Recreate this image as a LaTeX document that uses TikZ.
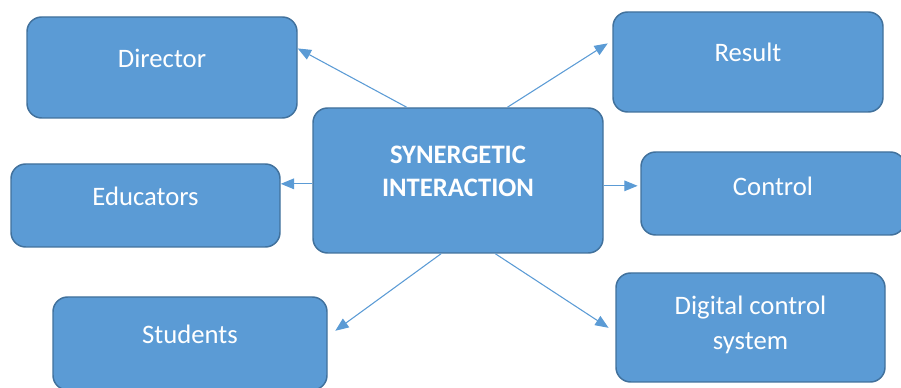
\documentclass[tikz,border=0pt]{standalone}
\usepackage{fontspec}
\setmainfont{Carlito}
\usetikzlibrary{arrows.meta, positioning, calc}
\definecolor{boxfill}{HTML}{5B9BD5}
\definecolor{boxline}{HTML}{41719C}
\tikzset{
  blockbox/.style={
    rectangle, rounded corners=11pt,
    draw=boxline, line width=1.1pt,
    fill=boxfill
  },
  blocktext/.style={
    text=white, align=center,
    font=\fontsize{20}{26}\selectfont
  },
  arrow/.style={-{Triangle[length=10pt, width=8pt]}, line width=0.8pt, boxfill}
}

\begin{document}
\begin{tikzpicture}[x=0.75pt, y=-0.75pt]

  \useasboundingbox (0,0) rectangle (901,388);

  % Central node
  \node[blockbox, minimum width=217.5pt, minimum height=108.75pt,
    label={[blocktext, font=\fontsize{20}{25}\selectfont\bfseries, yshift=7pt]center:SYNERGETIC\\INTERACTION}]
    (syn) at (458,180.5) {};

  % Surrounding nodes
  \node[blockbox, minimum width=202.5pt, minimum height=75.75pt,
    label={[blocktext, yshift=7pt]center:Director}] (dir) at (162,67.5) {};
  \node[blockbox, minimum width=202.5pt, minimum height=75pt,
    label={[blocktext, yshift=7.5pt]center:Result}] (res) at (748,62) {};
  \node[blockbox, minimum width=201.75pt, minimum height=62.25pt,
    label={[blocktext, yshift=6.5pt]center:Educators}] (edu) at (145.5,205.5) {};
  \node[blockbox, minimum width=198pt, minimum height=62.25pt,
    label={[blocktext, yshift=5.5pt]center:Control}] (ctl) at (773,193.5) {};
  \node[blockbox, minimum width=205.5pt, minimum height=69.75pt,
    label={[blocktext, yshift=7pt]center:Students}] (stu) at (190,343.5) {};
  \node[blockbox, minimum width=201.75pt, minimum height=81.75pt,
    label={[blocktext, yshift=2pt]center:Digital control\\system}] (dig) at (750.5,327.5) {};

  % Connectors
  \draw[arrow] (syn.125) -- (dir.8.5);
  \draw[arrow, shorten >=4pt] (syn.56) -- (res.171);
  \draw[arrow] ([yshift=-2.5pt]syn.west) -- ([yshift=-2.5pt]syn.west -| edu.east);
  \draw[arrow, shorten >=2pt] ([yshift=-4pt]syn.east) -- ([yshift=-4pt]syn.east -| ctl.west);
  \draw[arrow, shorten >=7pt] (syn.257.7) -- (stu.3.4);
  \draw[arrow, shorten >=6pt] (syn.297.3) -- (dig.182.2);

\end{tikzpicture}
\end{document}
